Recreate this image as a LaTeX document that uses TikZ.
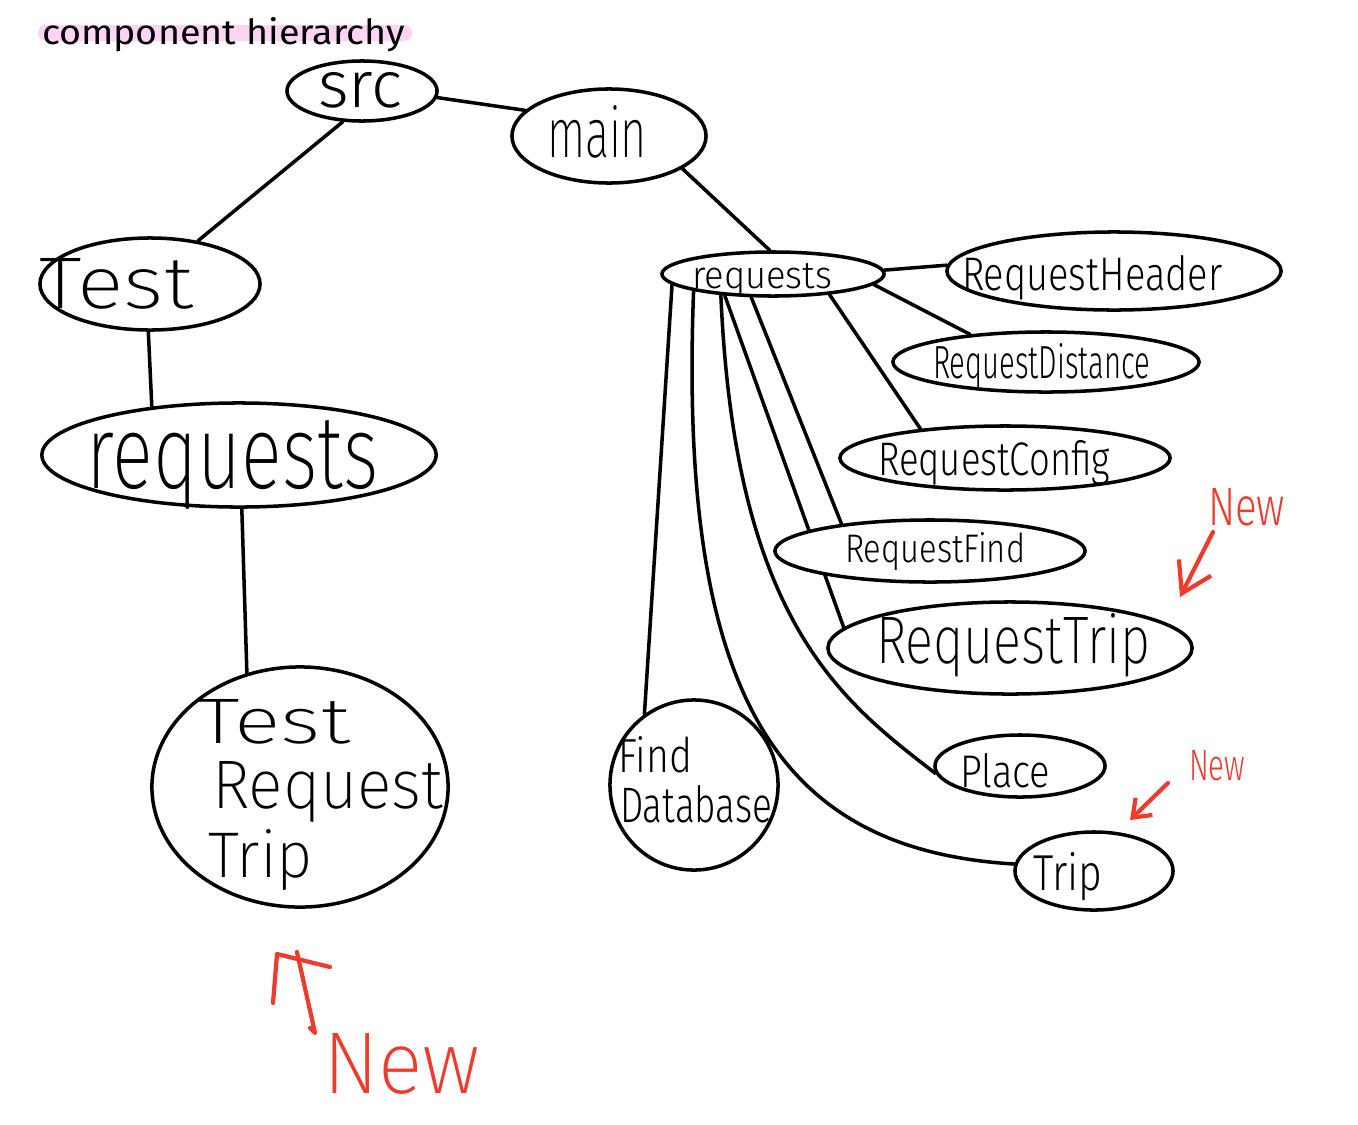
\documentclass[tikz,border=0pt]{standalone}
\usepackage{fontspec}
\usepackage{graphicx}
\setmainfont{Fira Sans Light}
\newfontfamily\thin{Fira Sans ExtraLight}
\newfontfamily\reg{Fira Sans}
\usetikzlibrary{shapes.geometric,arrows.meta,backgrounds}
\definecolor{penred}{HTML}{EE3B2B}
\definecolor{hilite}{HTML}{FDD3F6}
\newcommand{\hw}[3]{\resizebox{#1cm}{#2cm}{#3}}
\tikzset{
  bub/.style={draw, ellipse, line width=1pt, fill=white, inner sep=0pt},
  lbl/.style={anchor=base west, inner sep=0pt, outer sep=0pt},
  link/.style={line width=1pt, line cap=round},
  redtxt/.style={lbl, text=penred},
  redpen/.style={draw=penred, line width=1.2pt, line cap=round, line join=round},
}
\begin{document}
\begin{tikzpicture}[x=0.01cm,y=-0.01cm]
\useasboundingbox (0,0) rectangle (1358,1124);

% ellipses
\node[bub, minimum width=1.50cm, minimum height=0.60cm] (src)   at (362,91)  {};
\node[bub, minimum width=1.94cm, minimum height=0.94cm] (main)  at (609,136) {};
\node[bub, minimum width=2.20cm, minimum height=0.92cm] (Test)  at (150,284) {};
\node[bub, minimum width=3.94cm, minimum height=1.04cm] (reqL)  at (239,455) {};
\node[bub, minimum width=2.96cm, minimum height=2.40cm] (TRT)   at (300,787) {};
\node[bub, minimum width=2.22cm, minimum height=0.44cm] (reqR)  at (773,274) {};
\node[bub, minimum width=3.34cm, minimum height=0.78cm] (RH)    at (1114,271) {};
\node[bub, minimum width=3.06cm, minimum height=0.60cm] (RD)    at (1046,362) {};
\node[bub, minimum width=3.30cm, minimum height=0.64cm] (RC)    at (1005,458) {};
\node[bub, minimum width=3.10cm, minimum height=0.62cm] (RF)    at (930,551) {};
\node[bub, minimum width=3.64cm, minimum height=0.92cm] (RT)    at (1010,648) {};
\node[bub, minimum width=1.70cm, minimum height=0.62cm] (Place) at (1020,766) {};
\node[bub, minimum width=1.58cm, minimum height=0.78cm] (Trip)  at (1094,871) {};
\node[bub, minimum width=1.68cm, minimum height=1.70cm] (FD)    at (694,785) {};

% labels
\node[lbl] (tTitle) at (42,44)   {\hw{3.63}{0.27}{\reg component hierarchy}};
\node[lbl] (tsrc)   at (318,107) {\hw{0.84}{0.35}{src}};
\node[lbl] (tmain)  at (547,157) {\hw{1.00}{0.52}{\thin main}};
\node[lbl] (tTest)  at (40,308)  {\hw{1.53}{0.50}{\thin Test}};
\node[lbl] (treqL)  at (87,488)  {\hw{2.91}{0.68}{\thin requests}};
\node[lbl] (tTRTa)  at (197,743) {\hw{1.53}{0.44}{\thin Test}};
\node[lbl] (tTRTb)  at (212,808) {\hw{2.31}{0.47}{\thin Request}};
\node[lbl] (tTRTc)  at (208,877) {\hw{1.05}{0.48}{\thin Trip}};
\node[lbl] (treqR)  at (692,288) {\hw{1.40}{0.25}{requests}};
\node[lbl] (tRH)    at (962,290) {\hw{2.60}{0.35}{RequestHeader}};
\node[lbl] (tRD)    at (933,378) {\hw{2.17}{0.35}{RequestDistance}};
\node[lbl] (tRC)    at (878,475) {\hw{2.32}{0.35}{RequestConfig}};
\node[lbl] (tRF)    at (845,562) {\hw{1.80}{0.30}{RequestFind}};
\node[lbl] (tRT)    at (876,663) {\hw{2.74}{0.50}{\thin RequestTrip}};
\node[lbl] (tPlace) at (960,787) {\hw{0.90}{0.34}{Place}};
\node[lbl] (tTrip)  at (1033,890) {\hw{0.69}{0.38}{Trip}};
\node[lbl] (tFind)  at (618,772) {\hw{0.74}{0.36}{Find}};
\node[lbl] (tDB)    at (620,822) {\hw{1.52}{0.37}{Database}};
\node[redtxt] (newA) at (323,1093) {\hw{1.57}{0.60}{\thin New}};
\node[redtxt] (newB) at (1208,525) {\hw{0.77}{0.37}{New}};
\node[redtxt] (newC) at (1189,780) {\hw{0.56}{0.30}{New}};

% red annotation arrows
\coordinate (raS) at (1213,532); \coordinate (raE) at (1180,597);
\draw[redpen, -{Straight Barb[length=0.29cm, width=0.36cm]}] (raS) -- (raE);
\coordinate (rbS) at (1168,783); \coordinate (rbE) at (1130,820);
\draw[redpen, -{Straight Barb[length=0.16cm, width=0.24cm]}] (rbS) -- (rbE);
\draw[redpen] (273,1003) -- (277,954) -- (330,967);
\draw[redpen] (297,952) -- (315,1033) -- (310,1028);

\begin{scope}[on background layer]
  \fill[white] (0,0) rectangle (1358,1124);
  \fill[hilite, rounded corners=0.075cm] (38,25) rectangle (412,41);
  \draw[link] (src.355) -- (main.163);
  \draw[link] (src.238) -- (Test.42);
  \draw[link] (main.336) -- (reqR.98);
  \draw[link] (Test.268) -- (reqL.151);
  \draw[link] (reqL.273) -- (TRT.115);
  \draw[link] (reqR.2) -- (RH.178);
  \draw[link] (reqR.354) -- (RD.160);
  \draw[link] (reqR.340) -- (RC.161);
  \draw[link] (reqR.227) -- (RF.163);
  \draw[link] (reqR.204) -- (RT.173);
  \draw[link] (reqR.202) .. controls (735,620) and (840,700) .. (Place.185);
  \draw[link] (reqR.192) .. controls (678,700) and (780,850) .. (Trip.175);
  \draw[link] (reqR.186) -- (FD.125);
\end{scope}
\end{tikzpicture}
\end{document}
